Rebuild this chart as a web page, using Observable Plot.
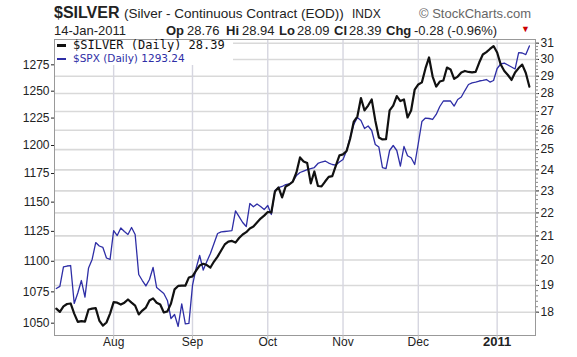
<!DOCTYPE html>
<html><head><meta charset="utf-8">
<script src="https://cdn.jsdelivr.net/npm/d3@7"></script>
<script src="https://cdn.jsdelivr.net/npm/@observablehq/plot@0.6"></script>
<style>
body{margin:0;background:#fff;}
#wrap{position:relative;width:577px;height:357px;font-family:"Liberation Sans",Arial,sans-serif;color:#222;overflow:hidden;}
.t{position:absolute;white-space:pre;line-height:1;}
</style></head><body><div id="wrap"></div>
<script>
// trading-day index 0 = 9-Jul-2010 ... 132 = 14-Jan-2011
const silver = [
18.13,18.01,18.21,18.30,18.32,17.95,17.65,17.68,17.66,18.10,
18.13,18.15,17.70,17.52,17.63,17.95,18.37,18.35,18.28,18.35,
18.47,18.35,18.24,17.92,18.06,18.17,18.43,18.51,18.35,18.28,
17.99,18.03,18.32,18.85,18.98,18.99,18.99,19.31,19.35,19.58,
19.78,19.85,19.80,19.70,19.94,20.14,20.39,20.64,20.76,20.79,
20.72,20.91,21.06,21.16,21.32,21.40,21.58,21.75,21.88,22.04,
22.02,22.97,23.16,22.70,23.21,23.30,23.44,23.87,24.61,24.41,
24.33,23.35,23.92,23.23,23.21,23.44,23.66,23.70,24.21,24.71,
24.76,24.93,25.57,26.46,26.73,27.75,27.06,27.33,27.67,26.52,
25.62,25.52,25.54,27.06,27.33,27.86,27.58,27.67,26.68,27.06,
28.23,28.52,28.64,29.46,30.12,28.98,28.40,28.69,28.75,29.51,
29.40,28.84,28.98,29.22,29.31,29.25,29.22,29.25,29.81,30.30,
30.45,30.64,30.82,30.42,29.69,29.31,29.07,28.78,29.22,29.48,
29.69,29.19,28.39];
const spx = [
1077.7,1079.4,1095.3,1096.1,1096.5,1065.7,1074.1,1084.2,1070.7,1094.5,
1101.5,1115.6,1112.7,1111.5,1102.7,1101.5,1125.7,1121.5,1127.9,1124.9,
1122.4,1128.3,1122.4,1089.1,1084.2,1079.8,1085.0,1094.9,1078.5,1076.1,
1073.7,1068.1,1053.7,1056.9,1047.4,1065.3,1049.5,1049.8,1080.2,1094.1,
1104.8,1092.8,1099.8,1106.5,1114.8,1123.2,1124.5,1124.9,1125.3,1125.7,
1142.4,1137.6,1132.5,1129.1,1148.8,1146.0,1148.4,1146.2,1143.6,1147.1,
1139.4,1160.1,1162.7,1163.6,1165.3,1165.8,1168.0,1173.2,1175.9,1177.2,
1178.5,1179.4,1180.3,1183.9,1185.2,1186.1,1184.3,1183.0,1182.5,1185.2,
1187.4,1195.5,1207.2,1219.1,1225.5,1222.7,1215.4,1217.7,1213.6,1200.9,
1198.6,1180.3,1179.4,1195.5,1200.0,1195.5,1181.6,1199.1,1190.8,1189.0,
1183.0,1201.8,1221.8,1225.0,1224.6,1223.7,1228.3,1235.7,1240.8,1240.8,
1240.8,1236.1,1242.2,1244.5,1250.6,1256.3,1257.9,1258.6,1259.6,1260.1,
1261.0,1258.6,1260.1,1271.5,1275.8,1276.7,1274.8,1272.9,1271.0,1286.8,
1286.4,1284.9,1293.24];
const monthLabels = ["Aug","Sep","Oct","Nov","Dec","2011"];
const monthStart = [16,38,59,80,101,123];
const silverTicks = [18,19,20,21,22,23,24,25,26,27,28,29,30,31];
const spxTicks = [1050,1075,1100,1125,1150,1175,1200,1225,1250,1275];

// map SPX (left log axis) into the silver (right log axis) space
const k = Math.log(31/18)/Math.log(1295.9/1058.7);
const toS = p => 18*Math.exp(k*Math.log(p/1058.7));
const fromS = s => 1058.7*Math.exp(Math.log(s/18)/k);

const rows = silver.map((v,i)=>({i, silver:v, spx:spx[i]}));
const months = monthLabels.map((label,j)=>({label, i:monthStart[j]}));
const minor = d3.range(18, 31.01, 0.2);

const BLUE = "#2e2ea6";
const chart = Plot.plot({
  width: 577, height: 357,
  marginTop: 39, marginBottom: 22, marginLeft: 54, marginRight: 42,
  style: {fontFamily: '"Liberation Sans", Arial, sans-serif', fontSize: "12px", color: "#222", background: "transparent"},
  x: {domain: [-0.5, 133.7], axis: null, label: null},
  y: {type: "log", domain: [18, 31], range: [311.7, 42.7], axis: null, label: null},
  marks: [
    Plot.ruleY(silverTicks, {stroke: "#d9d9d9", strokeWidth: 1.6}),
    Plot.ruleX(monthStart, {stroke: "#d6d6e0", strokeWidth: 1.4}),
    Plot.line(rows, {x: "i", y: d => toS(d.spx), stroke: BLUE, strokeWidth: 1.3}),
    Plot.line(rows, {x: "i", y: "silver", stroke: "#111", strokeWidth: 2.2}),
    Plot.frame({stroke: "#999"}),
    Plot.axisY(spxTicks.map(toS), {anchor: "left", label: null, tickSize: 3, tickPadding: 2, tickFormat: s => String(Math.round(fromS(s))), fontSize: 12}),
    Plot.axisY(silverTicks, {anchor: "right", label: null, tickSize: 3, tickPadding: 2, tickFormat: s => String(s), fontSize: 12}),
    Plot.axisY(minor, {anchor: "right", label: null, tickSize: 2, tickFormat: () => "", stroke: "#888"}),
    Plot.axisX(monthStart, {anchor: "bottom", label: null, tickSize: 4, tickFormat: () => "", stroke: "#bbb"}),
    Plot.text(months.slice(0,5), {x: "i", text: "label", frameAnchor: "bottom", dy: 10, fontSize: 12}),
    Plot.text(months.slice(5), {x: "i", text: "label", frameAnchor: "bottom", dy: 10, fontSize: 13, fontWeight: "bold"})
  ]
});
const wrap = document.getElementById("wrap");
wrap.appendChild(chart);

function add(txt, left, baseline, size, extra) {
  const s = document.createElement("div");
  s.className = "t";
  s.textContent = txt;
  s.style.left = left + "px";
  s.style.top = (baseline - 0.8465*size) + "px";
  s.style.fontSize = size + "px";
  if (extra) Object.assign(s.style, extra);
  wrap.appendChild(s);
  return s;
}
// header
add("$SILVER", 54, 18.5, 16, {fontWeight: "bold"});
add("(Silver - Continuous Contract (EOD))", 124, 18.5, 13.5);
add("INDX", 352, 18.5, 12);
add("\u00A9 StockCharts.com", 419, 18.5, 13, {color: "#666"});
add("14-Jan-2011", 54, 35, 13);
const hdr = [["Op",166,1],["28.76",187,0],["Hi",226,1],["28.94",242,0],["Lo",279,1],["28.09",297,0],["Cl",334,1],["28.39",349,0],["Chg",386,1],["-0.28 (-0.96%)",414,0]];
hdr.forEach(([t,x,b]) => add(t, x, 35, 13, b ? {fontWeight: "bold"} : null));
add("\u25BC", 521, 33, 9, {color: "#cc0000"});

// legend box
const box = document.createElement("div");
Object.assign(box.style, {position: "absolute", left: "55px", top: "40px", width: "178px", height: "25px", background: "#fff"});
wrap.appendChild(box);
const d1 = document.createElement("div");
Object.assign(d1.style, {position: "absolute", left: "57px", top: "44px", width: "9px", height: "2.5px", background: "#111"});
wrap.appendChild(d1);
const d2 = document.createElement("div");
Object.assign(d2.style, {position: "absolute", left: "57px", top: "57.5px", width: "9px", height: "2.5px", background: BLUE});
wrap.appendChild(d2);
add("$SILVER (Daily) 28.39", 73, 49.5, 12, {fontFamily: '"DejaVu Sans Mono", monospace', color: "#111"});
add("$SPX (Daily) 1293.24", 73, 62, 10.5, {fontFamily: '"DejaVu Sans", Verdana, sans-serif', color: BLUE});
</script></body></html>
